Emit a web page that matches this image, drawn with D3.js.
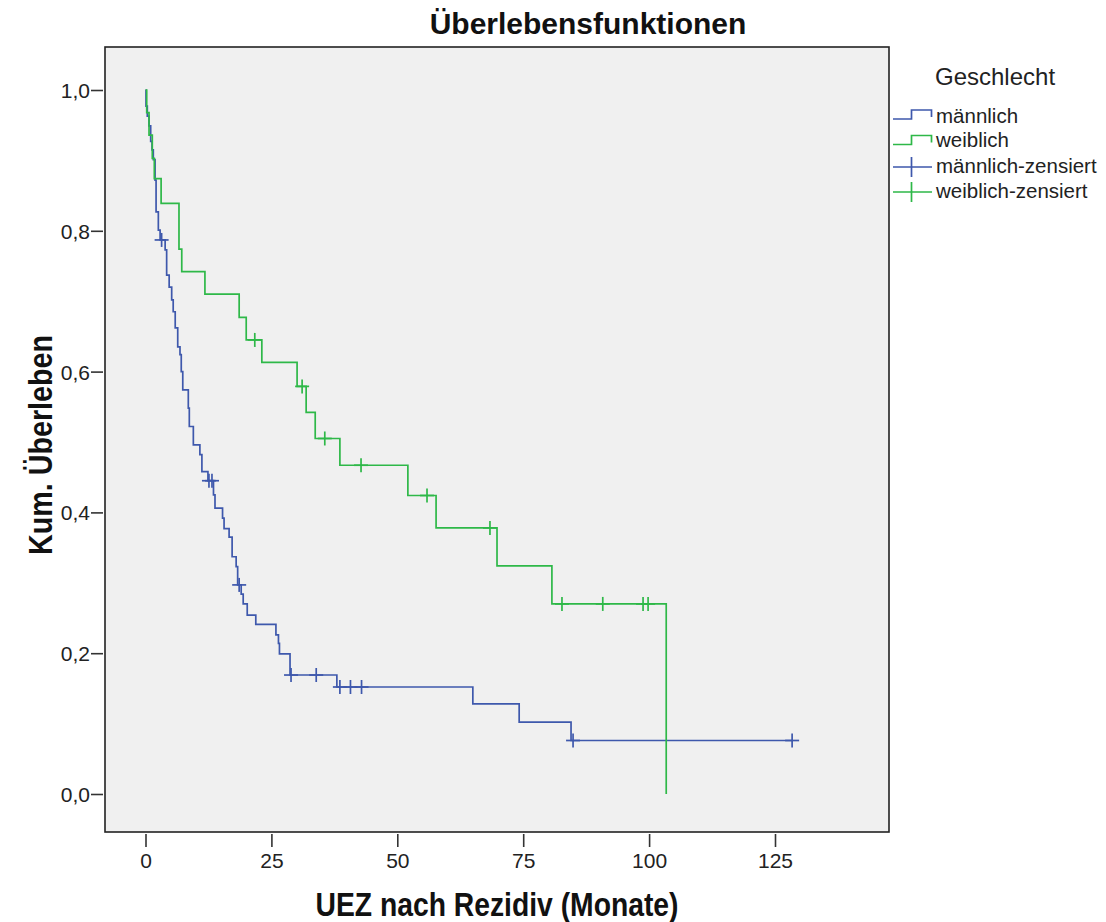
<!DOCTYPE html>
<html>
<head>
<meta charset="utf-8">
<script src="https://cdnjs.cloudflare.com/ajax/libs/d3/7.8.5/d3.min.js"></script>
<style>
  body { margin: 0; background: #fff; }
  svg text { font-family: "Liberation Sans", Arial, sans-serif; }
</style>
</head>
<body>
<div id="chart"></div>
<script>
// Kaplan-Meier curves
const xTicks = [0, 25, 50, 75, 100, 125];
const yTicks = [0, 0.2, 0.4, 0.6, 0.8, 1.0];

// männlich: event times (months) and survival after each event
const maleTimes = [0, 0.1, 0.36, 0.7, 1.03, 1.3, 1.55, 1.9, 2.1, 2.55, 2.9, 3.9, 4.2, 4.7, 5.2, 5.5, 5.9, 6.4, 6.85, 7.1, 7.4,
  8.5, 8.7, 9.5, 10.8, 11.2, 12.4, 13.5, 13.8, 15.3, 15.6, 16.6, 17.2, 18.0, 18.3, 19.0, 19.4, 20.2, 21.9,
  25.9, 26.4, 26.6, 28.7, 38.0, 65.0, 74.2, 84.5];
const maleSurv = [1.0, 0.977, 0.963, 0.949, 0.927, 0.915, 0.901, 0.872, 0.827, 0.801, 0.787, 0.773, 0.737, 0.720, 0.702, 0.685, 0.662, 0.635, 0.624, 0.600, 0.574,
  0.548, 0.522, 0.496, 0.482, 0.458, 0.445, 0.425, 0.406, 0.392, 0.377, 0.365, 0.337, 0.323, 0.297, 0.284, 0.270, 0.254, 0.241,
  0.226, 0.214, 0.199, 0.169, 0.152, 0.128, 0.102, 0.076];
const maleCensored = [3.2, 12.6, 13.2, 18.6, 28.9, 33.9, 38.6, 40.7, 42.9, 84.9, 128.4];

// weiblich
const femaleTimes = [0, 0.24, 0.7, 1.35, 1.75, 3.1, 6.65, 7.2, 11.8, 18.6, 20.0, 23.1, 30.1, 31.9, 33.7, 38.6,
  52.1, 57.7, 69.8, 80.7, 103.4];
const femaleSurv = [1.0, 0.968, 0.936, 0.903, 0.874, 0.839, 0.774, 0.742, 0.710, 0.677, 0.645, 0.613, 0.579, 0.542, 0.505, 0.467,
  0.424, 0.378, 0.324, 0.270, 0.0];
const femaleCensored = [21.7, 31.1, 35.6, 42.8, 55.9, 68.4, 82.7, 90.8, 98.8, 99.8];

const groups = ['männlich', 'weiblich'];
const colors = ['#3e58ac', '#2eb848'];

const W = 1106, H = 922;
const frame = {left: 105, top: 47, right: 889, bottom: 832};

const svg = d3.select('#chart').append('svg').attr('width', W).attr('height', H);

const x = d3.scaleLinear().domain([0, 125]).range([145.5, 775]);
const y = d3.scaleLinear().domain([0, 1]).range([794, 90]);

const locale = d3.formatLocale({decimal: ',', thousands: '.', grouping: [3], currency: ['', '€']});
const fmt = locale.format('.1f');

// plot area
svg.append('rect')
  .attr('x', frame.left).attr('y', frame.top)
  .attr('width', frame.right - frame.left).attr('height', frame.bottom - frame.top)
  .attr('fill', '#f0f0f0').attr('stroke', '#222').attr('stroke-width', 1.6);

// axes (ticks sit just outside the frame)
const yAxisG = svg.append('g').attr('transform', 'translate(103,0)')
  .call(d3.axisLeft(y).tickValues(yTicks).tickFormat(fmt).tickSize(12).tickPadding(1));
const xAxisG = svg.append('g').attr('transform', 'translate(0,834)')
  .call(d3.axisBottom(x).tickValues(xTicks).tickSize(13).tickPadding(6));
[yAxisG, xAxisG].forEach(g => {
  g.select('.domain').remove();
  g.selectAll('line').attr('stroke', '#333').attr('stroke-width', 1.6);
  g.selectAll('text').attr('font-size', 21).attr('fill', '#222')
    .attr('font-family', '"Liberation Sans", Arial, sans-serif');
});
yAxisG.selectAll('text').attr('dy', '0.36em');

// curves
const line = d3.line().x(d => x(d[0])).y(d => y(d[1])).curve(d3.curveStepAfter);

function survAt(times, surv, t) {
  const i = d3.bisectRight(times, t) - 1;
  return surv[Math.max(0, i)];
}

function drawGroup(times, surv, censored, color) {
  const pts = times.map((t, i) => [t, surv[i]]);
  const last = d3.max(censored);
  if (last > times[times.length - 1]) pts.push([last, surv[surv.length - 1]]);
  svg.append('path').datum(pts)
    .attr('d', line).attr('fill', 'none')
    .attr('stroke', color).attr('stroke-width', 1.7);
  const g = svg.append('g').attr('stroke', color).attr('stroke-width', 1.7);
  censored.forEach(t => {
    const cx = x(t), cy = y(survAt(times, surv, t));
    g.append('line').attr('x1', cx - 7).attr('x2', cx + 7).attr('y1', cy).attr('y2', cy);
    g.append('line').attr('x1', cx).attr('x2', cx).attr('y1', cy - 7).attr('y2', cy + 7);
  });
}

drawGroup(maleTimes, maleSurv, maleCensored, colors[0]);
drawGroup(femaleTimes, femaleSurv, femaleCensored, colors[1]);

// titles
svg.append('text').attr('x', 588).attr('y', 34).attr('text-anchor', 'middle')
  .attr('font-size', 30).attr('font-weight', 'bold').attr('fill', '#111')
  .text('Überlebensfunktionen');

svg.append('text').attr('x', (frame.left + frame.right) / 2).attr('y', 916).attr('text-anchor', 'middle')
  .attr('font-size', 33).attr('font-weight', 'bold').attr('fill', '#111')
  .attr('textLength', 363).attr('lengthAdjust', 'spacingAndGlyphs')
  .text('UEZ nach Rezidiv (Monate)');

svg.append('text').attr('transform', 'translate(52,445) rotate(-90)').attr('text-anchor', 'middle')
  .attr('font-size', 33).attr('font-weight', 'bold').attr('fill', '#111')
  .attr('textLength', 220).attr('lengthAdjust', 'spacingAndGlyphs')
  .text('Kum. Überleben');

// legend
const legend = svg.append('g');
legend.append('text').attr('x', 935).attr('y', 85).attr('font-size', 24).attr('fill', '#222').text('Geschlecht');

const legendItems = [
  {label: groups[0], color: colors[0], kind: 'step'},
  {label: groups[1], color: colors[1], kind: 'step'},
  {label: groups[0] + '-zensiert', color: colors[0], kind: 'cross'},
  {label: groups[1] + '-zensiert', color: colors[1], kind: 'cross'}
];
const rowY = [119, 144.5, 167, 192];
legendItems.forEach((d, i) => {
  const cy = rowY[i];
  if (d.kind === 'step') {
    legend.append('path')
      .attr('d', `M893,${cy} H911.5 V${cy - 9} H931.5 V${cy - 2}`)
      .attr('fill', 'none').attr('stroke', d.color).attr('stroke-width', 1.7);
  } else {
    legend.append('path')
      .attr('d', `M893,${cy} H932 M911.5,${cy - 10} V${cy + 10}`)
      .attr('fill', 'none').attr('stroke', d.color).attr('stroke-width', 1.7);
  }
  legend.append('text').attr('x', 936).attr('y', [123, 147, 172.5, 197.5][i])
    .attr('font-size', 20.5).attr('fill', '#222').text(d.label);
});
</script>
</body>
</html>
